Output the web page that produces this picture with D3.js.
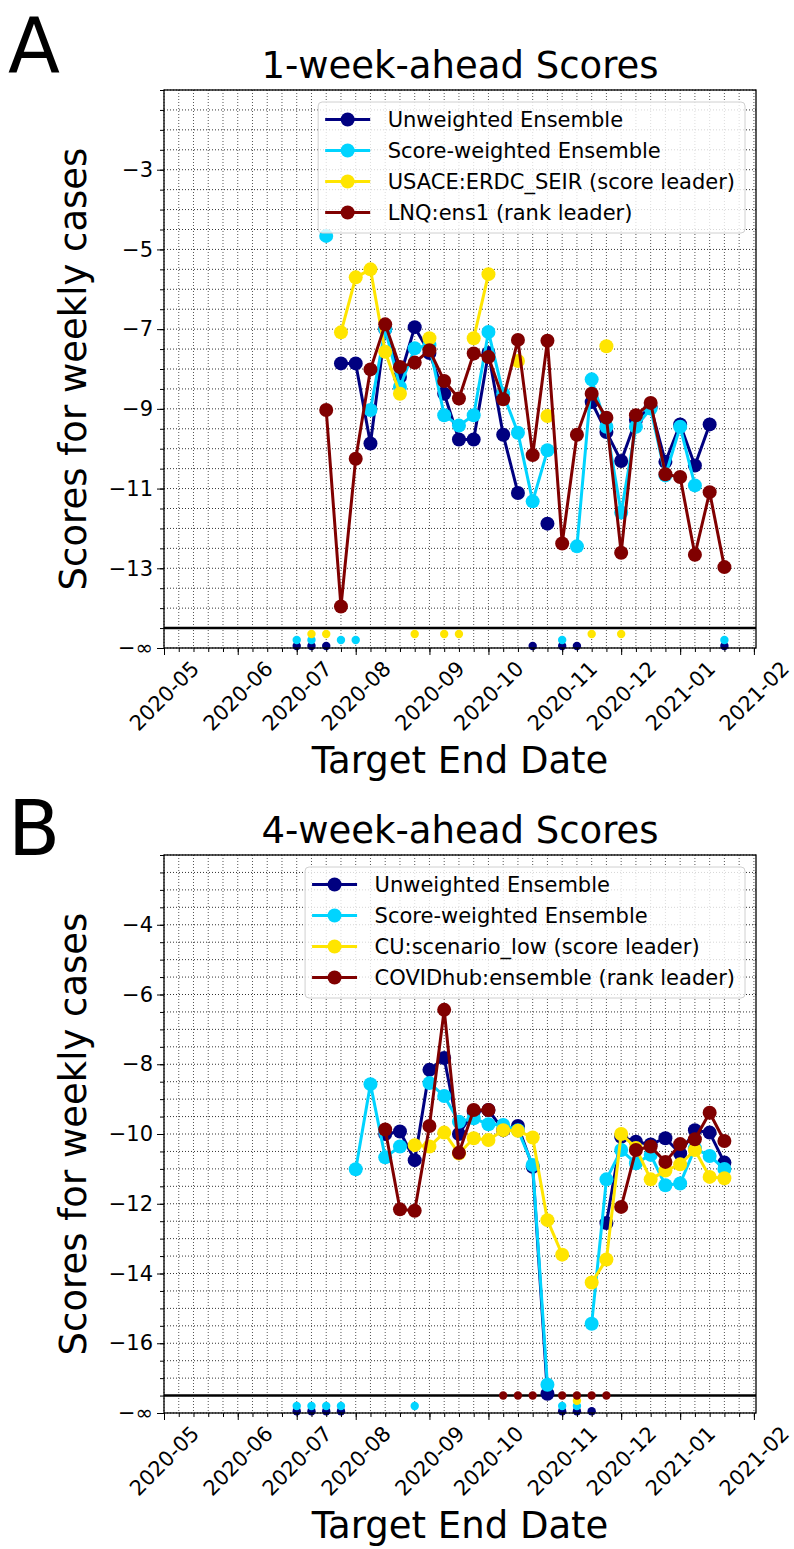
<!DOCTYPE html>
<html>
<head>
<meta charset="utf-8">
<script src="https://cdn.jsdelivr.net/npm/d3@7"></script>
<style>
  body { margin: 0; background: #fff; }
  svg { display: block; font-family: "DejaVu Sans", sans-serif; }
</style>
</head>
<body>
<svg id="chart"></svg>
<script>
var NINF = -Infinity;

// Target end dates (Saturdays) of the scored weeks
var weeks = ["2020-07-04", "2020-07-11", "2020-07-18", "2020-07-25", "2020-08-01", "2020-08-08",
    "2020-08-15", "2020-08-22", "2020-08-29", "2020-09-05", "2020-09-12", "2020-09-19",
    "2020-09-26", "2020-10-03", "2020-10-10", "2020-10-17", "2020-10-24", "2020-10-31",
    "2020-11-07", "2020-11-14", "2020-11-21", "2020-11-28", "2020-12-05", "2020-12-12",
    "2020-12-19", "2020-12-26", "2021-01-02", "2021-01-09", "2021-01-16", "2021-01-23"];

// Month ticks (first Saturday of each month) and their labels
var monthTicks = ["2020-05-02", "2020-06-06", "2020-07-04", "2020-08-01", "2020-09-05",
    "2020-10-03", "2020-11-07", "2020-12-05", "2021-01-02", "2021-02-06"];
var monthLabels = ["2020-05", "2020-06", "2020-07", "2020-08", "2020-09",
    "2020-10", "2020-11", "2020-12", "2021-01", "2021-02"];

// Panel A: 1-week-ahead scores (null = no forecast, NINF = -inf score)
var aUnweighted = [NINF, NINF, NINF, -7.86, -7.86, -9.87, -7.0, -8.2, -6.95, -7.6,
    -8.62, -9.77, -9.77, -7.6, -9.65, -11.11, NINF, -11.88, NINF, NINF,
    -8.83, -9.58, -10.31, -9.28, -8.95, -10.33, -9.39, -10.42, -9.39, NINF];
var aScoreWeighted = [NINF, NINF, -4.66, NINF, NINF, -9.03, -7.0, -8.45, -7.48, -7.4,
    -9.16, -9.42, -9.16, -7.07, -8.62, -9.6, -11.32, -10.04, NINF, -12.45,
    -8.26, -9.45, -11.6, -9.45, -8.99, -10.67, -9.45, -10.92, null, NINF];
var aScoreLeader = [null, NINF, NINF, -7.08, -5.7, -5.5, -7.57, -8.62, NINF, -7.23,
    NINF, NINF, -7.23, -5.62, null, -7.8, null, -9.18, null, null,
    NINF, -7.43, NINF, null, null, null, null, null, null, null];
var aRankLeader = [null, null, -9.03, -13.96, -10.25, -8.01, -6.88, -7.95, -7.84, -7.53,
    -8.3, -8.74, -7.61, -7.7, -8.76, -7.27, -10.16, -7.29, -12.38, -9.65,
    -8.62, -9.22, -12.61, -9.16, -8.85, -10.64, -10.71, -12.66, -11.09, -12.97];
var aNames = ["Unweighted Ensemble", "Score-weighted Ensemble",
    "USACE:ERDC_SEIR (score leader)", "LNQ:ens1 (rank leader)"];
var aYTicks = [-13, -11, -9, -7, -5, -3];

// Panel B: 4-week-ahead scores
var bUnweighted = [NINF, NINF, NINF, NINF, null, null, -10.0, -9.93, -10.75, -8.16,
    -7.82, -10.0, -9.36, -9.31, -9.89, -9.77, -10.94, -17.45, NINF, NINF,
    NINF, -12.55, -10.08, -10.22, -10.3, -10.12, -10.56, -9.89, -9.96, -10.82];
var bScoreWeighted = [NINF, NINF, NINF, NINF, -11.01, -8.57, -10.67, -10.36, NINF, -8.54,
    -8.91, -9.65, -9.55, -9.72, -9.74, -9.89, -10.89, -17.19, NINF, NINF,
    -15.44, -11.3, -10.46, -10.84, -10.6, -11.47, -11.42, -10.41, -10.63, -11.0];
var bScoreLeader = [null, null, null, null, null, null, null, null, -10.32, -10.36,
    -9.96, -10.56, -10.12, -10.17, -9.89, -9.91, -10.1, -12.47, -13.46, NINF,
    -14.26, -13.6, -10.0, -10.4, -11.3, -11.05, -10.87, -10.46, -11.23, -11.27];
var bRankLeader = [null, null, null, null, null, null, -9.87, -12.16, -12.2, -9.77,
    -6.44, -10.54, -9.31, -9.31, NINF, NINF, NINF, null, NINF, NINF,
    NINF, NINF, -12.09, -10.46, -10.36, -10.8, -10.29, -10.15, -9.39, -10.2];
var bNames = ["Unweighted Ensemble", "Score-weighted Ensemble",
    "CU:scenario_low (score leader)", "COVIDhub:ensemble (rank leader)"];
var bYTicks = [-16, -14, -12, -10, -8, -6, -4];

// Series colours (jet colormap at 0, 1/3, 2/3, 1)
var colors = ["#000080", "#00d4ff", "#ffe500", "#800000"];
// how far above the axis floor each series puts its -inf markers
var infOffsets = [0.05, 0.2, 0.35, 0.5];

var W = 794, H = 1549;
var left = 164, right = 756;
var parse = d3.utcParse("%Y-%m-%d");

var svg = d3.select("#chart")
    .attr("width", W)
    .attr("height", H);

var xScale = d3.scaleUtc()
    .domain([parse("2020-05-02"), parse("2021-02-07")])
    .range([left, right]);

function fmt(v) {
    return (v < 0 ? "\u2212" : "") + Math.abs(v);
}

function drawPanel(p) {
    var yMin = p.yDomain[0], yMax = p.yDomain[1];
    var yScale = d3.scaleLinear()
        .domain(p.yDomain)
        .range([p.bottom, p.top]);

    var g = svg.append("g");

    // Grid lines: weekly verticals, half-unit horizontals
    var weekTicks = d3.utcSaturday.range(xScale.domain()[0], xScale.domain()[1]);
    var halfTicks = d3.range(yMin, yMax + 0.001, 0.5);

    g.selectAll(".vgrid")
        .data(weekTicks)
        .enter().append("line")
        .attr("x1", d => xScale(d)).attr("x2", d => xScale(d))
        .attr("y1", p.top).attr("y2", p.bottom)
        .attr("stroke", "#555")
        .attr("stroke-width", 1)
        .attr("stroke-dasharray", "1,2");

    g.selectAll(".hgrid")
        .data(halfTicks)
        .enter().append("line")
        .attr("x1", left).attr("x2", right)
        .attr("y1", d => yScale(d)).attr("y2", d => yScale(d))
        .attr("stroke", "#333")
        .attr("stroke-width", 1)
        .attr("stroke-dasharray", "1,2");

    // Separator line between finite scores and -inf
    g.append("line")
        .attr("x1", left).attr("x2", right)
        .attr("y1", yScale(yMin + 0.5)).attr("y2", yScale(yMin + 0.5))
        .attr("stroke", "#000")
        .attr("stroke-width", 2.6);

    // Series
    p.series.forEach(function (vals, i) {
        var pts = weeks.map(function (w, j) { return { date: parse(w), v: vals[j] }; });
        var finite = pts.filter(d => d.v !== null && isFinite(d.v));
        var inf = pts.filter(d => d.v === NINF);

        var line = d3.line()
            .defined(d => d.v !== null && isFinite(d.v))
            .x(d => xScale(d.date))
            .y(d => yScale(d.v));

        g.append("path")
            .datum(pts)
            .attr("fill", "none")
            .attr("stroke", colors[i])
            .attr("stroke-width", 3)
            .attr("stroke-linejoin", "round")
            .attr("d", line);

        g.selectAll(".dot" + i)
            .data(finite)
            .enter().append("circle")
            .attr("cx", d => xScale(d.date))
            .attr("cy", d => yScale(d.v))
            .attr("r", 7)
            .attr("fill", colors[i]);

        g.selectAll(".inf" + i)
            .data(inf)
            .enter().append("circle")
            .attr("cx", d => xScale(d.date))
            .attr("cy", yScale(yMin + infOffsets[i]))
            .attr("r", 4.2)
            .attr("fill", colors[i]);
    });

    // Frame
    g.append("rect")
        .attr("x", left).attr("y", p.top)
        .attr("width", right - left).attr("height", p.bottom - p.top)
        .attr("fill", "none")
        .attr("stroke", "#000")
        .attr("stroke-width", 1.3);

    // Y axis: minor ticks then labelled ticks
    g.append("g")
        .attr("transform", "translate(" + left + ",0)")
        .call(d3.axisLeft(yScale).tickValues(halfTicks).tickSize(4).tickFormat(""))
        .call(a => a.select(".domain").remove());

    g.append("g")
        .attr("transform", "translate(" + left + ",0)")
        .call(d3.axisLeft(yScale)
            .tickValues(p.yTicks.concat([yMin]))
            .tickSize(7)
            .tickPadding(4)
            .tickFormat(d => d === yMin ? "\u2212\u221e" : fmt(d)))
        .call(a => a.select(".domain").remove())
        .selectAll("text")
        .attr("font-size", "21px")
        .attr("font-family", "DejaVu Sans");

    // X axis: weekly minor ticks, monthly labelled ticks
    g.append("g")
        .attr("transform", "translate(0," + p.bottom + ")")
        .call(d3.axisBottom(xScale).tickValues(weekTicks).tickSize(4).tickFormat(""))
        .call(a => a.select(".domain").remove());

    var monthDates = monthTicks.map(parse);
    g.append("g")
        .attr("transform", "translate(0," + p.bottom + ")")
        .call(d3.axisBottom(xScale)
            .tickValues(monthDates)
            .tickSize(7)
            .tickFormat((d, i) => monthLabels[i]))
        .call(a => a.select(".domain").remove())
        .selectAll("text")
        .attr("y", 0)
        .attr("dy", null)
        .attr("dominant-baseline", "central")
        .attr("transform", "translate(0,48) rotate(-45)")
        .attr("font-size", "21px")
        .attr("font-family", "DejaVu Sans");

    // Title, axis labels, panel letter
    g.append("text")
        .attr("x", (left + right) / 2)
        .attr("y", p.top - 12)
        .attr("text-anchor", "middle")
        .attr("font-size", "37px")
        .text(p.title);

    g.append("text")
        .attr("x", (left + right) / 2)
        .attr("y", p.bottom + 125)
        .attr("text-anchor", "middle")
        .attr("font-size", "37px")
        .text("Target End Date");

    g.append("text")
        .attr("transform", "translate(86," + ((p.top + p.bottom) / 2) + ") rotate(-90)")
        .attr("text-anchor", "middle")
        .attr("font-size", "37px")
        .text("Scores for weekly cases");

    g.append("text")
        .attr("x", 8)
        .attr("y", p.letterY)
        .attr("font-size", "76px")
        .text(p.letter);

    // Legend (upper right)
    var legend = g.append("g");
    var box = legend.append("rect")
        .attr("rx", 4)
        .attr("fill", "#fff")
        .attr("fill-opacity", 0.8)
        .attr("stroke", "#d0d0d0")
        .attr("stroke-width", 1);

    var maxW = 0;
    p.names.forEach(function (name, i) {
        var t = legend.append("text")
            .attr("x", 69.5)
            .attr("y", 17.5 + 31 * i)
            .attr("dy", "0.35em")
            .attr("font-size", "21px")
            .text(name);
        maxW = Math.max(maxW, t.node().getComputedTextLength());
        legend.append("line")
            .attr("x1", 7).attr("x2", 52)
            .attr("y1", 17.5 + 31 * i).attr("y2", 17.5 + 31 * i)
            .attr("stroke", colors[i])
            .attr("stroke-width", 3);
        legend.append("circle")
            .attr("cx", 29.5).attr("cy", 17.5 + 31 * i)
            .attr("r", 7)
            .attr("fill", colors[i]);
    });
    var boxW = 69.5 + maxW + 10;
    box.attr("width", boxW).attr("height", 131);
    legend.attr("transform", "translate(" + (right - 11 - boxW) + "," + (p.top + 12) + ")");
}

drawPanel({
    top: 90, bottom: 648,
    yDomain: [-15, -1],
    yTicks: aYTicks,
    series: [aUnweighted, aScoreWeighted, aScoreLeader, aRankLeader],
    names: aNames,
    title: "1-week-ahead Scores",
    letter: "A", letterY: 72
});

drawPanel({
    top: 855, bottom: 1413,
    yDomain: [-18, -2],
    yTicks: bYTicks,
    series: [bUnweighted, bScoreWeighted, bScoreLeader, bRankLeader],
    names: bNames,
    title: "4-week-ahead Scores",
    letter: "B", letterY: 855
});
</script>
</body>
</html>
